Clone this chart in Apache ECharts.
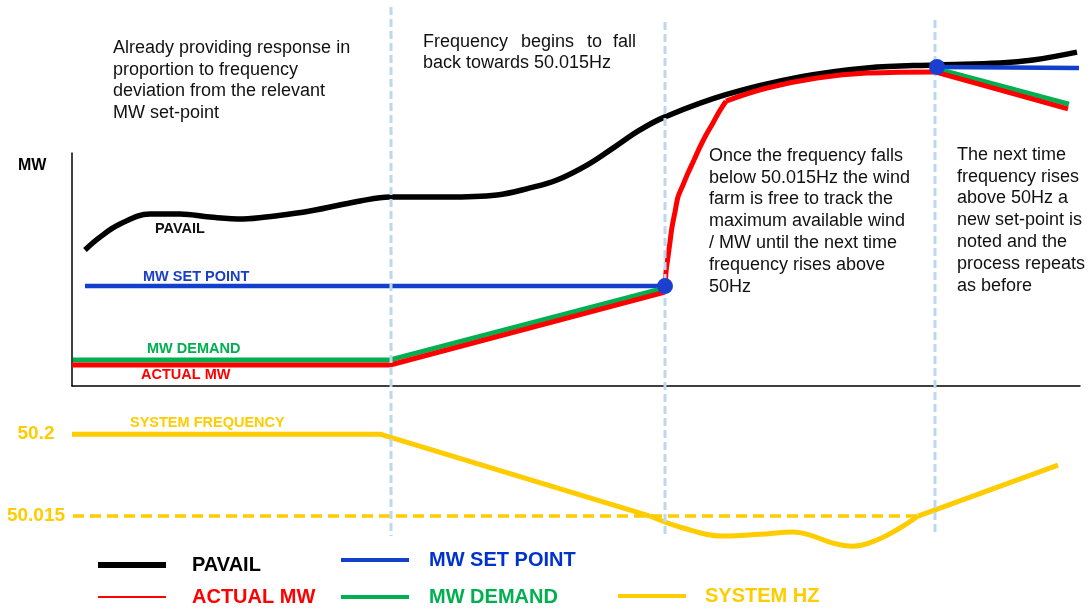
<!DOCTYPE html>
<html>
<head>
<meta charset="utf-8">
<script src="https://cdn.jsdelivr.net/npm/echarts@6/dist/echarts.min.js"></script>
<style>
  html, body { margin: 0; background: #fff; }
  #chart { width: 1092px; height: 609px; }
</style>
</head>
<body>
<div id="chart"></div>
<script>
  // x = time (0..100.8 across the plot), top panel y = MW (0..100 inside the box), bottom panel y = Hz
  const pavail = [[1.3, 58.4], [2.8, 63.9], [4.8, 69.5], [7.8, 73.8], [10.8, 73.8], [13.8, 72.5], [17.1, 71.7],
    [20.3, 73.0], [23.8, 75.1], [28.8, 79.4], [31.8, 81.1], [37.5, 81.1], [42.5, 82.0], [45.8, 85.0],
    [48.5, 88.4], [51.5, 94.8], [54.1, 102.1], [56.8, 109.9], [59.3, 115.5], [65.3, 124.9], [72.8, 132.6],
    [79.5, 136.5], [86.3, 137.8], [92.8, 138.6], [96.1, 139.9], [100.5, 143.3]]
  const setPointBefore = [[1.3, 42.9], [59.3, 42.9]]
  const setPointAfter = [[86.5, 136.9], [100.7, 136.5]]
  const setPointMarks = [[59.3, 42.9], [86.5, 136.9]]
  const demandBefore = [[0.1, 11.2], [31.8, 11.2], [59.3, 42.1]]
  const demandAfter = [[86.5, 136.1], [99.7, 121.0]]
  const actualRamp = [[0, 9.0], [31.8, 9.0], [59.3, 40.3]]
  const actualRise = [[59.3, 40.3], [59.4, 48.9], [59.6, 55.4], [59.8, 61.8], [60.0, 68.2], [60.3, 74.7],
    [60.6, 81.1], [61.1, 86.3], [61.6, 91.4], [62.2, 97.0], [62.8, 102.6], [63.4, 107.7], [64.1, 112.9],
    [64.7, 117.6], [65.4, 122.3]]
  const actualTrack = [[65.4, 122.3], [69.5, 127.9], [74.5, 132.2], [79.5, 134.3], [86.3, 134.8]]
  const actualFall = [[86.3, 134.8], [99.6, 118.9]]
  const freqFlatFall = [[0, 50.2], [30.8, 50.2], [57.8, 50.015]]
  const freqDip = [[57.8, 50.015], [61.1, 49.988], [65.1, 49.970], [68.8, 49.974], [72.1, 49.979],
    [73.8, 49.972], [76.1, 49.954], [78.1, 49.947], [80.5, 49.961], [82.8, 49.988], [84.6, 50.015]]
  const freqRise = [[84.6, 50.015], [98.6, 50.13]]
  const thresholdLine = [[0.1, 50.015], [84.6, 50.015]]
  const freqTicks = [50.2, 50.015]
  const phaseTimes = [31.9, 59.3, 86.3]
  const phaseTops = [162.7, 156.2, 157.1]
  const phaseBottoms = [-64.4, -63.9, -63.1]

  const font = '"Liberation Sans", Arial, sans-serif'
  const black = '#000000'
  const blue = '#1240cc'
  const red = '#ff0000'
  const green = '#00b050'
  const yellow = '#ffcc00'
  const phaseBlue = '#bdd7ee'

  const chart = echarts.init(document.getElementById('chart'))

  function mwLine (name, data, color, width, smooth, z) {
    return {
      name: name,
      type: 'line',
      xAxisIndex: 0,
      yAxisIndex: 0,
      data: data,
      smooth: smooth,
      showSymbol: false,
      symbol: 'none',
      clip: false,
      color: color,
      lineStyle: { color: color, width: width, cap: 'butt' },
      z: z
    }
  }

  function freqLine (data, smooth, dashed) {
    return {
      name: dashed ? 'threshold' : 'SYSTEM HZ',
      type: 'line',
      xAxisIndex: 1,
      yAxisIndex: 1,
      data: data,
      smooth: smooth,
      showSymbol: false,
      symbol: 'none',
      clip: false,
      color: yellow,
      lineStyle: dashed ? { color: yellow, width: 3.5, type: [11, 6] } : { color: yellow, width: 5 },
      z: dashed ? 2 : 3
    }
  }

  const phaseSeries = phaseTimes.map((t, i) => ({
    name: 'phase' + i,
    type: 'line',
    xAxisIndex: 0,
    yAxisIndex: 0,
    data: [[t, phaseTops[i]], [t, phaseBottoms[i]]],
    showSymbol: false,
    symbol: 'none',
    clip: false,
    lineStyle: { color: phaseBlue, width: 3, type: [8, 4] },
    z: 5
  }))

  function legendAt (name, color, left, top, thickness, gap) {
    return {
      data: [{ name: name, textStyle: { color: color } }],
      left: left,
      top: top,
      padding: 0,
      icon: 'rect',
      itemWidth: 68,
      itemHeight: thickness,
      selectedMode: false,
      textStyle: { fontFamily: font, fontSize: 20, fontWeight: 'bold', padding: [0, 0, 0, gap] }
    }
  }

  function tag (text, color, x, y) {
    return {
      type: 'text',
      x: x,
      y: y,
      style: { text: text, fill: color, fontFamily: font, fontSize: 14.5, fontWeight: 'bold', verticalAlign: 'middle' }
    }
  }

  function note (text, x, y) {
    return {
      type: 'text',
      x: x,
      y: y,
      style: { text: text, fill: '#111', fontFamily: font, fontSize: 18, lineHeight: 21.8, verticalAlign: 'top' }
    }
  }

  const option = {
    animation: false,
    backgroundColor: '#fff',
    grid: [
      { left: 72, right: 12, top: 153, height: 233 },
      { left: 72, right: 12, top: 412, height: 155 }
    ],
    xAxis: [
      {
        gridIndex: 0, type: 'value', min: 0, max: 100.8,
        axisLine: { show: true, onZero: false, lineStyle: { color: '#000', width: 1.5 } },
        axisTick: { show: false }, axisLabel: { show: false }, splitLine: { show: false }
      },
      {
        gridIndex: 1, type: 'value', min: 0, max: 100.8, show: false
      }
    ],
    yAxis: [
      {
        gridIndex: 0, type: 'value', min: 0, max: 100,
        axisLine: { show: true, onZero: false, lineStyle: { color: '#000', width: 1.5 } },
        axisTick: { show: false }, axisLabel: { show: false }, splitLine: { show: false }
      },
      {
        gridIndex: 1, type: 'value', min: 49.9, max: 50.25,
        axisLine: { show: false }, axisTick: { show: false }, splitLine: { show: false },
        axisLabel: {
          customValues: freqTicks,
          formatter: (v) => String(Math.round(v * 1000) / 1000),
          margin: 36,
          align: 'center',
          color: yellow,
          fontFamily: font,
          fontSize: 19,
          fontWeight: 'bold'
        }
      }
    ],
    legend: [
      legendAt('PAVAIL', '#000000', 98, 555, 6, 21),
      legendAt('MW SET POINT', '#0033cc', 341, 550, 4, 15),
      legendAt('ACTUAL MW', '#ff0000', 98, 587, 2, 21),
      legendAt('MW DEMAND', '#00b050', 341, 587, 4, 15),
      legendAt('SYSTEM HZ', '#ffcc00', 618, 586, 4, 14)
    ],
    graphic: [
      { type: 'text', x: 18, y: 166, style: { text: 'MW', fill: '#000', fontFamily: font, fontSize: 16, fontWeight: 'bold', verticalAlign: 'middle' } },
      tag('PAVAIL', '#111', 155, 229),
      tag('MW SET POINT', '#1a3fc4', 143, 277),
      tag('MW DEMAND', green, 147, 349),
      tag('ACTUAL MW', red, 141, 375),
      tag('SYSTEM FREQUENCY', yellow, 130, 423),
      note('Already providing response in\nproportion to frequency\ndeviation from the relevant\nMW set-point', 113, 37),
      note('Frequency', 423, 31),
      note('begins', 521, 31),
      note('to', 587, 31),
      note('fall', 613, 31),
      note('back towards 50.015Hz', 423, 52.6),
      note('Once the frequency falls\nbelow 50.015Hz the wind\nfarm is free to track the\nmaximum available wind\n/ MW until the next time\nfrequency rises above\n50Hz', 709, 145),
      note('The next time\nfrequency rises\nabove 50Hz a\nnew set-point is\nnoted and the\nprocess repeats\nas before', 957, 144)
    ],
    series: [
      mwLine('PAVAIL', pavail, black, 5.5, 0.4, 2),
      mwLine('MW SET POINT', setPointBefore, blue, 4.5, false, 2),
      mwLine('MW SET POINT', setPointAfter, blue, 4.5, false, 2),
      mwLine('MW DEMAND', demandBefore, green, 5, false, 2),
      mwLine('MW DEMAND', demandAfter, green, 5, false, 2),
      mwLine('ACTUAL MW', actualRamp, red, 5, false, 3),
      mwLine('ACTUAL MW', actualRise, red, 5, 0.3, 3),
      mwLine('ACTUAL MW', actualTrack, red, 5, 0.4, 3),
      mwLine('ACTUAL MW', actualFall, red, 5, false, 3),
      freqLine(thresholdLine, false, true),
      freqLine(freqFlatFall, false, false),
      freqLine(freqDip, 0.4, false),
      freqLine(freqRise, false, false),
      ...phaseSeries,
      {
        name: 'set points',
        type: 'scatter',
        xAxisIndex: 0,
        yAxisIndex: 0,
        data: setPointMarks,
        symbolSize: 16,
        clip: false,
        itemStyle: { color: '#1c3fcf', opacity: 1 },
        z: 10
      }
    ]
  }

  chart.setOption(option)
</script>
</body>
</html>
